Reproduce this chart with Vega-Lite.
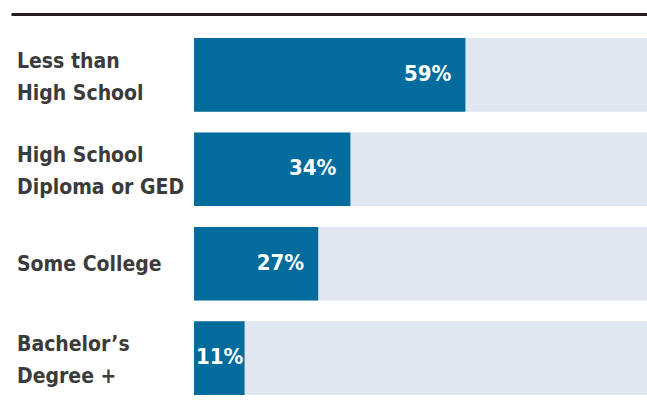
{
  "$schema": "https://vega.github.io/schema/vega-lite/v6.json",
  "width": 636,
  "height": 357,
  "autosize": {"type": "none"},
  "padding": {"left": 11, "top": 38, "right": 0, "bottom": 22},
  "background": "white",
  "config": {"view": {"stroke": null}},
  "data": {
    "values": [
      {"group": "Less than\nHigh School", "value": 59, "label": "59%"},
      {"group": "High School\nDiploma or GED", "value": 34, "label": "34%"},
      {"group": "Some College", "value": 27, "label": "27%"},
      {"group": "Bachelor’s\nDegree +", "value": 11, "label": "11%"}
    ]
  },
  "encoding": {
    "y": {
      "field": "group",
      "type": "nominal",
      "sort": null,
      "scale": {"paddingInner": 0.22, "paddingOuter": 0},
      "axis": null
    }
  },
  "layer": [
    {
      "mark": {"type": "bar", "color": "#e0e7f1", "clip": true},
      "encoding": {
        "x": {
          "datum": 100,
          "type": "quantitative",
          "scale": {"domain": [-39.78, 98.48], "nice": false, "zero": false},
          "axis": {
            "orient": "top",
            "offset": 24,
            "domain": true,
            "domainColor": "#231f20",
            "domainWidth": 3,
            "labels": false,
            "ticks": false,
            "grid": false,
            "title": null
          }
        }
      }
    },
    {
      "mark": {"type": "bar", "color": "#046b9d"},
      "encoding": {
        "x": {"field": "value", "type": "quantitative"}
      }
    },
    {
      "transform": [{"filter": "datum.value >= 20"}],
      "mark": {
        "type": "text",
        "align": "right",
        "baseline": "middle",
        "dx": -14,
        "dy": -1,
        "font": "DejaVu Sans Condensed",
        "fontWeight": "bold",
        "fontSize": 22,
        "color": "white"
      },
      "encoding": {
        "x": {"field": "value", "type": "quantitative"},
        "text": {"field": "label"}
      }
    },
    {
      "transform": [{"filter": "datum.value < 20"}],
      "mark": {
        "type": "text",
        "align": "left",
        "baseline": "middle",
        "dx": 2,
        "dy": -1,
        "font": "DejaVu Sans Condensed",
        "fontWeight": "bold",
        "fontSize": 22,
        "color": "white"
      },
      "encoding": {
        "x": {"datum": 0, "type": "quantitative"},
        "text": {"field": "label"}
      }
    },
    {
      "transform": [{"filter": "indexof(datum.group, '\\n') >= 0"}],
      "mark": {
        "type": "text",
        "align": "left",
        "baseline": "middle",
        "dx": 6,
        "dy": -13,
        "lineBreak": "\n",
        "lineHeight": 32,
        "font": "DejaVu Sans Condensed",
        "fontWeight": "bold",
        "fontSize": 21,
        "color": "#3b3b3b"
      },
      "encoding": {
        "x": {"datum": -39.78, "type": "quantitative"},
        "text": {"field": "group"}
      }
    },
    {
      "transform": [{"filter": "indexof(datum.group, '\\n') < 0"}],
      "mark": {
        "type": "text",
        "align": "left",
        "baseline": "middle",
        "dx": 6,
        "dy": 1,
        "font": "DejaVu Sans Condensed",
        "fontWeight": "bold",
        "fontSize": 21,
        "color": "#3b3b3b"
      },
      "encoding": {
        "x": {"datum": -39.78, "type": "quantitative"},
        "text": {"field": "group"}
      }
    }
  ]
}
